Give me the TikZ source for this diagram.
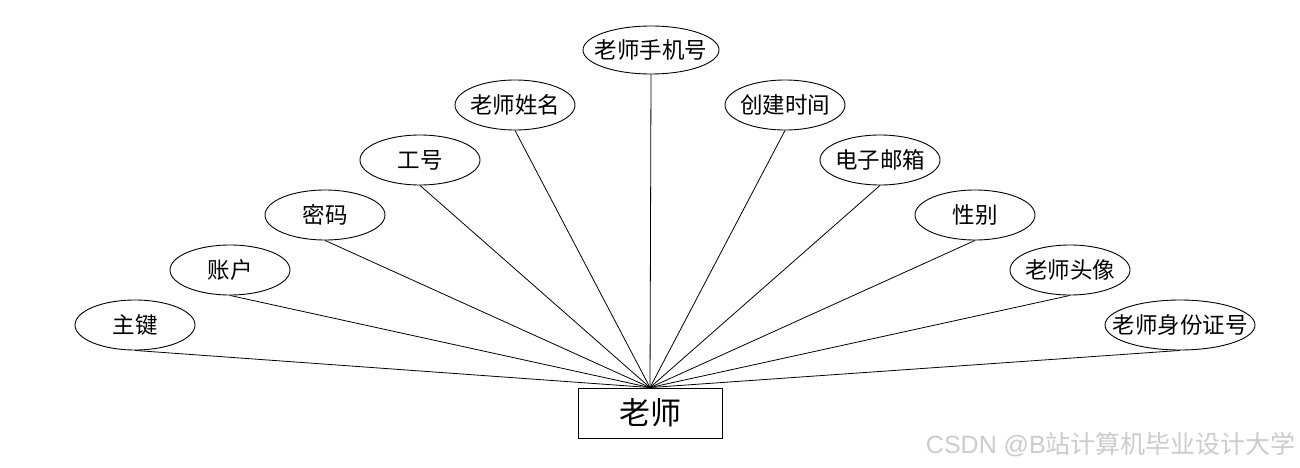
\documentclass[tikz,border=0pt]{standalone}
\usepackage{fontspec}
\setmainfont{Noto Sans CJK SC}
\newfontfamily\wmlatin{Liberation Sans}
\usetikzlibrary{shapes.geometric}
\begin{document}
\begin{tikzpicture}[x=1pt,y=-1pt,
  attr/.style={draw,line width=0.9pt,ellipse,inner sep=0pt,minimum width=120pt,minimum height=50pt,
    label={[font=\fontsize{22.5}{22.5}\selectfont,inner sep=0pt]center:#1}},
  ent/.style={draw,line width=0.9pt,rectangle,inner sep=0pt,minimum width=144pt,minimum height=50pt,font=\fontsize{31}{31}\selectfont},
  link/.style={draw,line width=0.8pt}]
\useasboundingbox[fill=white] (0,0) rectangle (1300,468);
\node[ent] (e) at (650,413) {老师};
\node[attr=主键] (a1) at (135,325) {};
\node[attr=账户] (a2) at (230,270) {};
\node[attr=密码] (a3) at (325,215) {};
\node[attr=工号] (a4) at (420,160) {};
\node[attr=老师姓名] (a5) at (515,105) {};
\node[attr=老师手机号,minimum width=136pt,minimum height=48pt] (a6) at (651,50) {};
\node[attr=创建时间] (a7) at (785,105) {};
\node[attr=电子邮箱] (a8) at (880,160) {};
\node[attr=性别] (a9) at (975,215) {};
\node[attr=老师头像] (a10) at (1070,270) {};
\node[attr=老师身份证号,minimum width=150pt] (a11) at (1180,325) {};
\foreach \i in {1,...,11} {\draw[link] (a\i.south) -- (e.north);}
\node[anchor=east,text=black!20,font=\fontsize{25}{25}\selectfont,inner sep=0pt] (wm) at (1296,445) {{\wmlatin CSDN @B}站计算机毕业设计大学};
\end{tikzpicture}
\end{document}
